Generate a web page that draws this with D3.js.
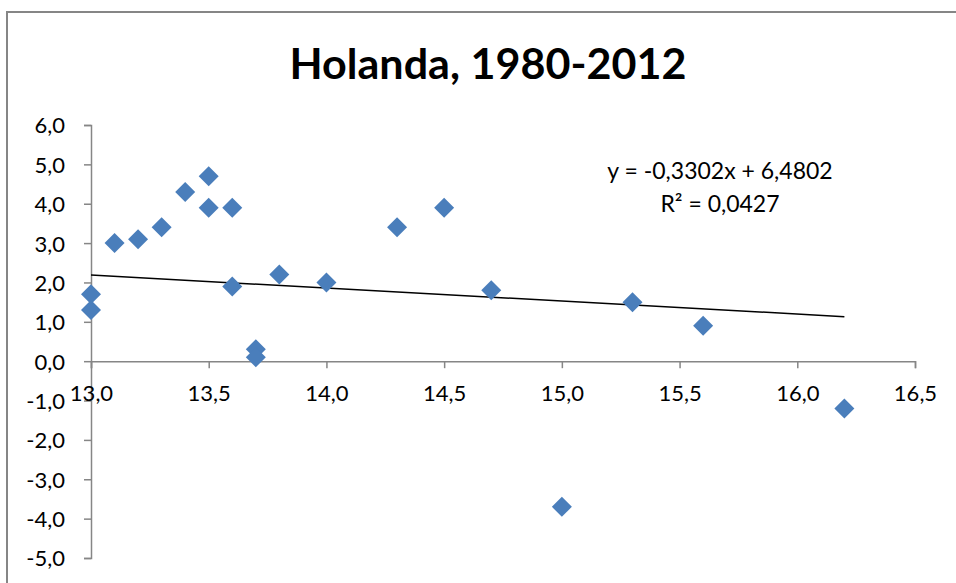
<!DOCTYPE html>
<meta charset="utf-8">
<style>
    body { margin: 0; background: #fff; }
    text { font-family: Lato, "Open Sans", sans-serif; fill: #000; }
    .axis path, .axis line { stroke: #868686; stroke-width: 1.5px; }
    .axis text { font-size: 22px; }
</style>
<svg width="956" height="583"></svg>
<script src="https://d3js.org/d3.v7.min.js"></script>
<script>
    // values
    var xValues = [13.0, 13.0, 13.1, 13.2, 13.3, 13.4, 13.5, 13.5, 13.6, 13.6, 13.7, 13.7, 13.8, 14.0, 14.3, 14.5, 14.7, 15.0, 15.3, 15.6, 16.2];
    var yValues = [1.7, 1.3, 3.0, 3.1, 3.4, 4.3, 4.7, 3.9, 3.9, 1.9, 0.3, 0.1, 2.2, 2.0, 3.4, 3.9, 1.8, -3.7, 1.5, 0.9, -1.2];
    var xTicks = [13.0, 13.5, 14.0, 14.5, 15.0, 15.5, 16.0, 16.5];
    var yTicks = [-5, -4, -3, -2, -1, 0, 1, 2, 3, 4, 5, 6];
    var slope = -0.3302, intercept = 6.4802;
    var trendRange = [13.0, 16.2];
    var title = "Holanda, 1980-2012";
    var eqLines = ["y = -0,3302x + 6,4802", "R² = 0,0427"];

    var svg = d3.select("svg");

    // chart frame
    svg.append("rect")
        .attr("x", 7).attr("y", 12)
        .attr("width", 960).attr("height", 600)
        .attr("fill", "none")
        .attr("stroke", "#868686")
        .attr("stroke-width", 2);

    var x = d3.scaleLinear().domain([13, 16.5]).range([91, 915]);
    var y = d3.scaleLinear().domain([-5, 6]).range([558, 125]);

    var fmt = function (d) { return d3.format(".1f")(d).replace(".", ",").replace("−", "-"); };

    svg.append("text")
        .attr("x", 488).attr("y", 79)
        .attr("text-anchor", "middle")
        .attr("font-size", 42)
        .attr("font-weight", "bold")
        .attr("textLength", 397)
        .attr("lengthAdjust", "spacingAndGlyphs")
        .text(title);

    var yAxis = svg.append("g")
        .attr("class", "axis")
        .attr("transform", "translate(" + x(13) + ",0)")
        .call(d3.axisLeft(y).tickValues(yTicks).tickFormat(fmt).tickSizeOuter(0).tickSize(7).tickPadding(19));
    yAxis.selectAll("text").attr("dy", "0.36em");

    var xAxis = svg.append("g")
        .attr("class", "axis")
        .attr("transform", "translate(0," + y(0) + ")")
        .call(d3.axisBottom(x).tickValues(xTicks).tickFormat(fmt).tickSizeOuter(0).tickSize(7).tickPadding(17));

    // trend line
    svg.append("line")
        .attr("x1", x(trendRange[0])).attr("y1", y(slope * trendRange[0] + intercept))
        .attr("x2", x(trendRange[1])).attr("y2", y(slope * trendRange[1] + intercept))
        .attr("stroke", "#000")
        .attr("stroke-width", 1.5);

    var diamond = d3.symbol().type(d3.symbolSquare).size(200);
    svg.append("g")
        .selectAll("path")
        .data(d3.range(xValues.length))
        .enter().append("path")
        .attr("d", diamond)
        .attr("fill", "#4a7ebb")
        .attr("transform", function (i) {
            return "translate(" + x(xValues[i]) + "," + y(yValues[i]) + ") rotate(45)";
        });

    svg.append("g")
        .selectAll("text")
        .data(eqLines)
        .enter().append("text")
        .attr("x", 720)
        .attr("y", function (d, i) { return 179 + i * 33; })
        .attr("text-anchor", "middle")
        .attr("font-size", 23)
        .text(function (d) { return d; });
</script>
